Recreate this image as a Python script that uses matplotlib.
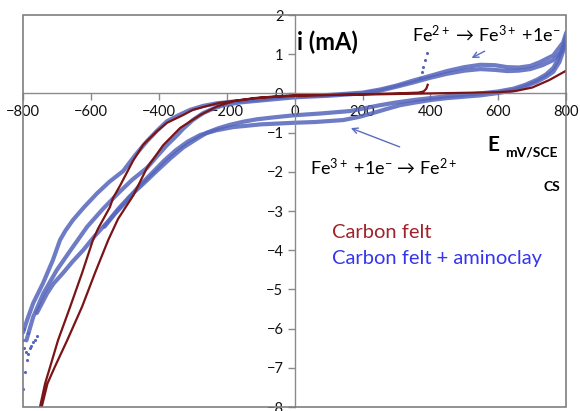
import matplotlib
matplotlib.use("Agg")
import matplotlib.pyplot as plt
from matplotlib.patches import Rectangle

plt.rcParams['font.family'] = ['Lato', 'DejaVu Sans']
plt.rcParams['mathtext.fontset'] = 'custom'
plt.rcParams['mathtext.rm'] = 'Lato'
plt.rcParams['mathtext.it'] = 'Lato'

# Carbon felt: cathodic branch (left curve) then return branch (right curve)
cf_E = [392, 388, 380, 365, 300, 200, 100, 0, -100, -140, -170, -220, -258, -300, -328,
        -376, -405, -446, -476, -514, -535, -544, -579, -594, -626, -661, -697, -720, -735,
        -750, -758, -748, -745, -728, -706, -670, -626, -588, -549, -520, -475, -435, -387,
        -337, -278, -228, -180, -120, -60, 0, 200, 400, 600, 650, 700, 750, 800]
cf_i = [0.22, 0.12, 0.05, 0.02, 0.0, -0.02, -0.04, -0.06, -0.11, -0.15, -0.18, -0.24, -0.32,
        -0.42, -0.55, -0.75, -0.96, -1.31, -1.72, -2.35, -2.67, -2.9, -3.45, -3.74, -4.58,
        -5.44, -6.3, -6.97, -7.4, -8.0, -8.4, -8.4, -8.0, -7.4, -6.97, -6.3, -5.44, -4.58,
        -3.74, -3.2, -2.6, -1.9, -1.32, -0.88, -0.55, -0.33, -0.2, -0.12, -0.08, -0.05,
        -0.03, 0.0, 0.03, 0.06, 0.15, 0.34, 0.58]

# Carbon felt + aminoclay, anodic scan (outer band)
ac_up_E = [-800, -788, -770, -741, -712, -691, -675, -653, -620, -582, -545, -505, -470,
           -435, -405, -376, -340, -308, -270, -228, -170, -111, -41, 100, 200, 252, 300,
           350, 400, 449, 500, 547, 590, 626, 660, 694, 723, 762, 791, 800]
ac_up_i = [-6.1, -5.78, -5.35, -4.84, -4.25, -3.74, -3.5, -3.23, -2.9, -2.55, -2.25, -1.98,
           -1.58, -1.22, -0.95, -0.71, -0.55, -0.42, -0.32, -0.25, -0.2, -0.16, -0.09, -0.04,
           0.02, 0.1, 0.2, 0.33, 0.45, 0.57, 0.67, 0.73, 0.72, 0.67, 0.66, 0.70, 0.80, 0.97,
           1.3, 1.55]

# anodic scan, second cycle
ac_up2_E = [-790, -770, -740, -700, -660, -611, -565, -520, -478, -435, -405, -376, -350,
            -328, -300, -269, -240, -210, -160, -111, 0, 100, 200, 252, 300, 350, 400, 449,
            500, 547, 590, 626, 660, 694, 730, 762, 785, 800]
ac_up2_i = [-6.3, -5.7, -5.1, -4.5, -4.0, -3.4, -2.95, -2.55, -2.2, -1.9, -1.6, -1.32, -1.1,
            -0.9, -0.68, -0.5, -0.39, -0.3, -0.23, -0.19, -0.1, -0.06, 0.0, 0.07, 0.17,
            0.28, 0.4, 0.5, 0.58, 0.62, 0.6, 0.57, 0.58, 0.62, 0.72, 0.85, 1.05, 1.3]

# cathodic scan, two strands
ac_dn_E = [800, 791, 775, 762, 740, 714, 680, 644, 600, 547, 449, 350, 300, 252, 200, 163,
           80, -4, -60, -111, -150, -190, -225, -258, -290, -328, -365, -405, -445, -485,
           -520, -553, -590, -623, -655, -682, -710, -729, -759]
ac_dn_i = [1.45, 1.2, 0.85, 0.65, 0.48, 0.35, 0.22, 0.12, 0.05, 0.0, -0.07, -0.17, -0.23,
           -0.3, -0.39, -0.45, -0.51, -0.56, -0.61, -0.66, -0.72, -0.8, -0.89, -1.0, -1.17,
           -1.38, -1.65, -1.97, -2.3, -2.62, -2.95, -3.3, -3.65, -4.0, -4.3, -4.58, -4.85,
           -5.1, -5.6]
ac_dn2_E = [800, 780, 762, 740, 714, 680, 644, 600, 547, 449, 400, 350, 311, 270, 231, 190,
            143, 60, -4, -100, -181, -230, -278, -315, -350, -385, -420, -460, -495, -530,
            -560]
ac_dn2_i = [1.3, 0.8, 0.55, 0.42, 0.3, 0.18, 0.08, 0.01, -0.05, -0.12, -0.17, -0.24, -0.3,
            -0.4, -0.5, -0.6, -0.68, -0.73, -0.75, -0.79, -0.86, -0.94, -1.06, -1.23, -1.45,
            -1.72, -2.03, -2.38, -2.75, -3.08, -3.4]

# sparse points (fast parts of the scan)
sp_E = [-759, -765, -770, -776, -780, -784, -788, -794, -800, -798, -800, -796, -790, -785,
        370, 375, 379, 384, 390]
sp_i = [-6.2, -6.3, -6.35, -6.45, -6.5, -6.65, -6.8, -7.1, -7.55, -6.5, -6.3, -6.0, -6.6,
        -6.1, 0.39, 0.55, 0.68, 0.85, 1.03]

x_ticks = [-800, -600, -400, -200, 0, 200, 400, 600, 800]
y_ticks = [-8, -7, -6, -5, -4, -3, -2, -1, 0, 1, 2]

red = '#7B1416'
blue = '#5565BC'

fig = plt.figure(figsize=(5.8, 4.11), dpi=100)
ax = fig.add_axes([0.0397, 0.0097, 0.9365, 0.9538])

for E, i in [(ac_up_E, ac_up_i), (ac_up2_E, ac_up2_i), (ac_dn_E, ac_dn_i), (ac_dn2_E, ac_dn2_i)]:
    ax.plot(E, i, color=blue, lw=3, alpha=0.85, solid_capstyle='round',
            solid_joinstyle='round', zorder=2)
ax.scatter(sp_E, sp_i, s=5, color=blue, linewidths=0, zorder=2)
ax.plot(cf_E, cf_i, color=red, lw=1.6, solid_joinstyle='round', zorder=3)

ax.set_xlim(-800, 800)
ax.set_ylim(-8, 2)
ax.set_xticks(x_ticks)
ax.set_yticks(y_ticks)

ax.spines['left'].set_position(('data', 0))
ax.spines['bottom'].set_position(('data', 0))
for s in ['left', 'bottom']:
    ax.spines[s].set_color('#8a8a8a')
    ax.spines[s].set_linewidth(1.0)
for s in ['top', 'right']:
    ax.spines[s].set_visible(False)
ax.add_patch(Rectangle((0, 0), 1, 1, transform=ax.transAxes, fill=False,
                       edgecolor='#7f7f7f', lw=1.2, zorder=5, clip_on=False))
ax.tick_params(direction='out', length=5, width=1, color='#8a8a8a', labelsize=10.5,
               labelcolor='#111111', pad=3)

ax.text(7, 1.31, 'i (mA)', fontsize=17, fontweight='bold', ha='left', va='center')
ax.text(346, 1.49, r'Fe$^{2+}$ → Fe$^{3+}$ +1e$^{-}$', fontsize=13, ha='left', va='center')
ax.text(46, -1.88, r'Fe$^{3+}$ +1e$^{-}$ → Fe$^{2+}$', fontsize=13, ha='left', va='center')
ax.text(567, -1.32, 'E', fontsize=15, fontweight='bold', ha='left', va='center')
ax.text(620, -1.52, 'mV/SCE', fontsize=10, fontweight='bold', ha='left', va='center')
ax.text(782, -2.39, 'CS', fontsize=10, fontweight='bold', ha='right', va='center')
ax.text(110, -3.56, 'Carbon felt', fontsize=14.5, color='#A0232B', ha='left', va='center')
ax.text(110, -4.22, 'Carbon felt + aminoclay', fontsize=14.5, color='#3535F0', ha='left',
        va='center')

arrow = dict(arrowstyle='->', color='#5a6cc4', lw=1)
ax.annotate('', xy=(514, 0.87), xytext=(567, 1.11), arrowprops=arrow)
ax.annotate('', xy=(158, -0.86), xytext=(317, -1.39), arrowprops=arrow)

fig.savefig('out.png', dpi=100)
